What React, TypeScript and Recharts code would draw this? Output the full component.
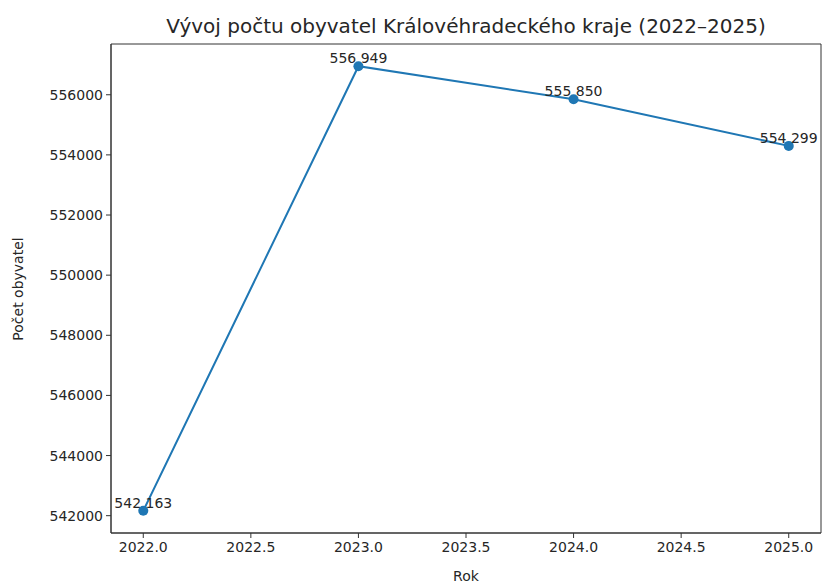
import { LineChart, Line, XAxis, YAxis, LabelList, ReferenceArea } from 'recharts'

const years = [2022, 2023, 2024, 2025]
const population = [542163, 556949, 555850, 554299]
const xTicks = [2022, 2022.5, 2023, 2023.5, 2024, 2024.5, 2025]
const yTicks = [542000, 544000, 546000, 548000, 550000, 552000, 554000, 556000]

const title = 'Vývoj počtu obyvatel Královéhradeckého kraje (2022–2025)'
const xLabel = 'Rok'
const yLabel = 'Počet obyvatel'

const FONT = '"DejaVu Sans", sans-serif'
const TEXT = '#262626'
const BLUE = '#1f77b4'
const X_DOMAIN: [number, number] = [2021.85, 2025.15]
const Y_DOMAIN: [number, number] = [541424, 557688]

const data = years.map((year, i) => ({ year, value: population[i] }))

// thousands separated by a space, like the annotations in the picture
const fmt = (v: number) => String(v).replace(/\B(?=(\d{3})+(?!\d))/g, ' ')

function PointLabel(props: { x?: number; y?: number; value?: number }) {
  const { x = 0, y = 0, value = 0 } = props
  return (
    <text x={x} y={y - 3} textAnchor="middle" fill={TEXT} fontSize={14} fontFamily={FONT}>
      {fmt(value)}
    </text>
  )
}

const tickStyle = { fontSize: 14, fill: TEXT, fontFamily: FONT }

export default function App() {
  return (
    <div style={{ position: 'absolute', left: 0, top: 0, width: 822, height: 583, background: '#fff', overflow: 'hidden' }}>
      <div style={{ position: 'absolute', left: 111, width: 710, top: 14, textAlign: 'center', fontFamily: FONT, fontSize: 20, color: TEXT }}>
        {title}
      </div>
      <div style={{ position: 'absolute', left: 111, width: 710, top: 568, textAlign: 'center', fontFamily: FONT, fontSize: 14, color: TEXT }}>
        {xLabel}
      </div>
      <div
        style={{
          position: 'absolute', left: 18, top: 289, fontFamily: FONT, fontSize: 14, color: TEXT,
          transform: 'translate(-50%, -50%) rotate(-90deg)', whiteSpace: 'nowrap',
        }}
      >
        {yLabel}
      </div>
      <LineChart width={822} height={583} data={data} margin={{ top: 44, right: 1, bottom: 0, left: 0 }}>
        <XAxis
          dataKey="year"
          type="number"
          domain={X_DOMAIN}
          ticks={xTicks}
          tickFormatter={(v: number) => v.toFixed(1)}
          allowDataOverflow
          height={50}
          tick={tickStyle}
          tickSize={5}
          tickMargin={4}
          axisLine={{ stroke: '#333' }}
          tickLine={{ stroke: '#333' }}
        />
        <YAxis
          type="number"
          domain={Y_DOMAIN}
          ticks={yTicks}
          allowDataOverflow
          width={111}
          tick={tickStyle}
          tickSize={5}
          tickMargin={3}
          axisLine={{ stroke: '#333' }}
          tickLine={{ stroke: '#333' }}
        />
        {/* box around the plot area */}
        <ReferenceArea x1={X_DOMAIN[0]} x2={X_DOMAIN[1]} y1={Y_DOMAIN[0]} y2={Y_DOMAIN[1]} fill="none" stroke="#333" strokeWidth={1} ifOverflow="visible" />
        <Line
          dataKey="value"
          stroke={BLUE}
          strokeWidth={2}
          dot={{ r: 5, fill: BLUE, stroke: BLUE, strokeWidth: 0 }}
          activeDot={false}
          isAnimationActive={false}
        >
          <LabelList dataKey="value" content={<PointLabel />} />
        </Line>
      </LineChart>
    </div>
  )
}
